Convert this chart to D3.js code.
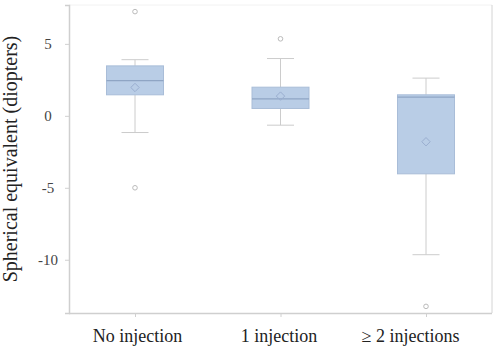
<!DOCTYPE html>
<html><head><meta charset="utf-8">
<script src="https://cdn.jsdelivr.net/npm/d3@7"></script>
<style>body{margin:0;background:#fff}svg{display:block}</style>
</head><body><div id="c"></div>
<script>
const categories = ["No injection", "1 injection", "\u2265 2 injections"];
const q1 = [1.46, 0.51, -4.03];
const median = [2.45, 1.18, 1.30];
const q3 = [3.47, 1.99, 1.46];
const mean = [1.97, 1.37, -1.8];
const whiskerLow = [-1.16, -0.65, -9.65];
const whiskerHigh = [3.9, 3.98, 2.62];
const outliers = [[7.24, -5.0], [5.35], [-13.24]];
const yTicks = [-10, -5, 0, 5];

const W = 498, H = 350;
const m = {left: 69, right: 6, top: 5, bottom: 37};
const svg = d3.select("#c").append("svg").attr("width", W).attr("height", H);
const x = d3.scalePoint().domain(categories).range([135, 426]);
const y = d3.scaleLinear().domain([-13.7, 7.7]).range([H - m.bottom, m.top]);

const boxW = 57, capW = 27;
const font = "'Liberation Serif','Times New Roman',serif";

// frame
svg.append("line").attr("x1", m.left).attr("x2", W - m.right).attr("y1", m.top).attr("y2", m.top).attr("stroke", "#f2f2f2");
svg.append("line").attr("x1", W - m.right).attr("x2", W - m.right).attr("y1", m.top).attr("y2", H - m.bottom).attr("stroke", "#d4d4d4");

const data = categories.map((c, i) => ({c, i}));
const g = svg.append("g");
data.forEach(d => {
  const cx = x(d.c), i = d.i;
  g.append("line").attr("x1", cx).attr("x2", cx).attr("y1", y(whiskerHigh[i])).attr("y2", y(q3[i])).attr("stroke", "#cccccc");
  g.append("line").attr("x1", cx).attr("x2", cx).attr("y1", y(q1[i])).attr("y2", y(whiskerLow[i])).attr("stroke", "#cccccc");
  g.append("line").attr("x1", cx - capW/2).attr("x2", cx + capW/2).attr("y1", y(whiskerHigh[i])).attr("y2", y(whiskerHigh[i])).attr("stroke", "#cccccc");
  g.append("line").attr("x1", cx - capW/2).attr("x2", cx + capW/2).attr("y1", y(whiskerLow[i])).attr("y2", y(whiskerLow[i])).attr("stroke", "#cccccc");
  g.append("rect").attr("x", cx - boxW/2).attr("width", boxW).attr("y", y(q3[i])).attr("height", y(q1[i]) - y(q3[i]))
    .attr("fill", "#b9cde6").attr("stroke", "#a9bdd8").attr("stroke-width", 1);
  g.append("line").attr("x1", cx - boxW/2).attr("x2", cx + boxW/2).attr("y1", y(median[i])).attr("y2", y(median[i])).attr("stroke", "#8fa5c4").attr("stroke-width", 1.2);
  g.append("path").attr("d", d3.symbol(d3.symbolDiamond2 || d3.symbolDiamond, 45)()).attr("transform", `translate(${cx},${y(mean[i])})`)
    .attr("fill", "none").attr("stroke", "#9aaed0");
  outliers[i].forEach(v => {
    g.append("circle").attr("cx", cx).attr("cy", y(v)).attr("r", 2.3).attr("fill", "none").attr("stroke", "#bbbbbb");
  });
});

// axes
const ya = svg.append("g").attr("transform", `translate(${m.left},0)`)
  .call(d3.axisLeft(y).tickValues(yTicks).tickSize(4).tickPadding(8).tickFormat(d => String(d)));
ya.select(".domain").attr("stroke", "#cfcfcf").attr("stroke-width", 1.5);
ya.selectAll(".tick line").attr("stroke", "#d0d0d0");
ya.selectAll("text").attr("font-family", font).attr("font-size", 15).attr("fill", "#444")
  .attr("text-anchor", "middle").attr("x", -21);

const xa = svg.append("g").attr("transform", `translate(0,${H - m.bottom})`)
  .call(d3.axisBottom(x).tickSize(4).tickPadding(12));
xa.select(".domain").attr("d", `M${m.left},0.5H${W - m.right}`).attr("stroke", "#cfcfcf").attr("stroke-width", 1.5);
xa.selectAll(".tick line").attr("stroke", "#d0d0d0");
xa.selectAll("text").attr("font-family", font).attr("font-size", 18).attr("fill", "#222")
  .attr("dx", (d, i) => i === 2 ? -16 : (i === 1 ? -2 : 2));

svg.append("text").attr("transform", `translate(10,${(m.top + H - m.bottom)/2}) rotate(-90)`)
  .attr("text-anchor", "middle").attr("dominant-baseline", "central").attr("font-family", font).attr("font-size", 20).attr("fill", "#222")
  .text("Spherical equivalent (diopters)");
</script></body></html>
